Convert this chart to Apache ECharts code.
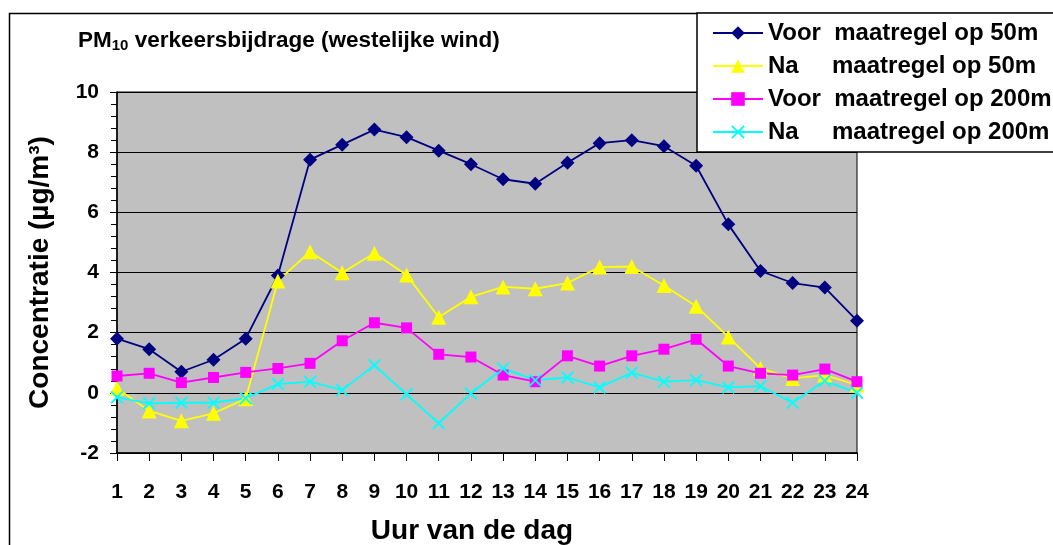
<!DOCTYPE html>
<html>
<head>
<meta charset="utf-8">
<script src="https://cdn.jsdelivr.net/npm/echarts@6/dist/echarts.min.js"></script>
<style>
  html, body { margin: 0; padding: 0; background: #fff; }
  #chart { width: 1053px; height: 545px; }
</style>
</head>
<body>
<div id="chart"></div>
<script>
// hours of the day
var hours = ["1","2","3","4","5","6","7","8","9","10","11","12","13","14","15","16","17","18","19","20","21","22","23","24"];

// PM10 values
var voor50 = [1.8, 1.45, 0.7, 1.1, 1.8, 3.9, 7.75, 8.25, 8.75, 8.5, 8.05, 7.6, 7.1, 6.95, 7.65, 8.3, 8.4, 8.2, 7.55, 5.6, 4.05, 3.65, 3.5, 2.4];
var na50 = [0.15, -0.6, -0.93, -0.68, -0.2, 3.72, 4.69, 3.99, 4.64, 3.92, 2.51, 3.19, 3.52, 3.46, 3.65, 4.18, 4.2, 3.57, 2.88, 1.86, 0.81, 0.48, 0.59, 0.26];
var voor200 = [0.56, 0.65, 0.34, 0.51, 0.68, 0.81, 0.98, 1.73, 2.33, 2.16, 1.28, 1.19, 0.59, 0.37, 1.23, 0.89, 1.23, 1.45, 1.78, 0.89, 0.65, 0.59, 0.79, 0.37];
var na200 = [-0.15, -0.35, -0.33, -0.33, -0.18, 0.29, 0.37, 0.09, 0.92, -0.05, -1.01, -0.02, 0.81, 0.42, 0.51, 0.18, 0.67, 0.37, 0.42, 0.18, 0.22, -0.33, 0.4, 0.0];

var seriesNames = [
  "Voor  maatregel op 50m",
  "Na     maatregel op 50m",
  "Voor  maatregel op 200m",
  "Na     maatregel op 200m"
];

var font = '"Liberation Sans", Arial, sans-serif';
// filled X shape for the last series
var crossPath = "path://M0,1L1,0L5,4L9,0L10,1L6,5L10,9L9,10L5,6L1,10L0,9L4,5Z";

var myChart = echarts.init(document.getElementById("chart"));

myChart.setOption({
  animation: false,
  textStyle: { fontFamily: font, fontWeight: "bold", color: "#000" },
  graphic: [
    {
      type: "rect",
      z: -10,
      shape: { x: 9.5, y: 13.5, width: 1200, height: 700 },
      style: { fill: "none", stroke: "#000", lineWidth: 1.5 }
    }
  ],
  title: {
    left: 78,
    top: 29,
    padding: 0,
    text: "{a|PM}{b|10}{a| verkeersbijdrage (westelijke wind)}",
    textStyle: {
      rich: {
        a: { fontFamily: font, fontWeight: "bold", fontSize: 22.5, color: "#000" },
        b: { fontFamily: font, fontWeight: "bold", fontSize: 15, color: "#000", verticalAlign: "bottom", padding: [9, 0, 0, 0] }
      }
    }
  },
  legend: {
    orient: "vertical",
    left: 697,
    top: 13,
    padding: [7, 20, 7, 15],
    itemGap: 7,
    itemWidth: 50,
    itemHeight: 17,
    backgroundColor: "#fff",
    borderColor: "#000",
    borderWidth: 1.5,
    z: 20,
    data: seriesNames,
    textStyle: {
      fontFamily: font,
      fontWeight: "bold",
      fontSize: 24,
      lineHeight: 26,
      color: "#000"
    }
  },
  grid: {
    left: 117,
    right: 196,
    top: 92,
    bottom: 92,
    outerBoundsMode: "none",
    show: true,
    backgroundColor: "#c0c0c0",
    borderColor: "#000",
    borderWidth: 1
  },
  xAxis: {
    type: "category",
    data: hours,
    boundaryGap: false,
    name: "Uur van de dag",
    nameLocation: "middle",
    nameGap: 64,
    nameTextStyle: { fontFamily: font, fontWeight: "bold", fontSize: 28, color: "#000", padding: [0, 30, 0, 0] },
    axisLine: { onZero: false, lineStyle: { color: "#000", width: 1.5 } },
    axisTick: { length: 8, lineStyle: { color: "#000" } },
    axisLabel: { margin: 29, fontFamily: font, fontWeight: "bold", fontSize: 21, color: "#000" },
    splitLine: { show: false }
  },
  yAxis: {
    type: "value",
    min: -2,
    max: 10,
    interval: 2,
    name: "Concentratie (µg/m³)",
    nameLocation: "middle",
    nameGap: 63,
    nameTextStyle: { fontFamily: font, fontWeight: "bold", fontSize: 28, color: "#000" },
    axisLine: { show: true, lineStyle: { color: "#000", width: 1.5 } },
    axisTick: { show: true, length: 7, lineStyle: { color: "#000" } },
    minorTick: { show: true, splitNumber: 5, length: 6, lineStyle: { color: "#000" } },
    axisLabel: { margin: 18, fontFamily: font, fontWeight: "bold", fontSize: 21, color: "#000" },
    splitLine: { show: true, lineStyle: { color: "#000", width: 1 } }
  },
  series: [
    {
      name: seriesNames[0],
      type: "line",
      data: voor50,
      symbol: "diamond",
      symbolSize: 14,
      color: "#000080",
      lineStyle: { width: 1.8, color: "#000080" },
      itemStyle: { color: "#000080" }
    },
    {
      name: seriesNames[1],
      type: "line",
      data: na50,
      symbol: "triangle",
      symbolSize: 15,
      color: "#ffff00",
      lineStyle: { width: 1.8, color: "#ffff00" },
      itemStyle: { color: "#ffff00" }
    },
    {
      name: seriesNames[2],
      type: "line",
      data: voor200,
      symbol: "rect",
      symbolSize: 11,
      color: "#ff00ff",
      lineStyle: { width: 1.8, color: "#ff00ff" },
      itemStyle: { color: "#ff00ff" }
    },
    {
      name: seriesNames[3],
      type: "line",
      data: na200,
      symbol: crossPath,
      symbolSize: 13,
      color: "#00ffff",
      lineStyle: { width: 1.8, color: "#00ffff" },
      itemStyle: { color: "#00ffff" }
    }
  ]
});
</script>
</body>
</html>
